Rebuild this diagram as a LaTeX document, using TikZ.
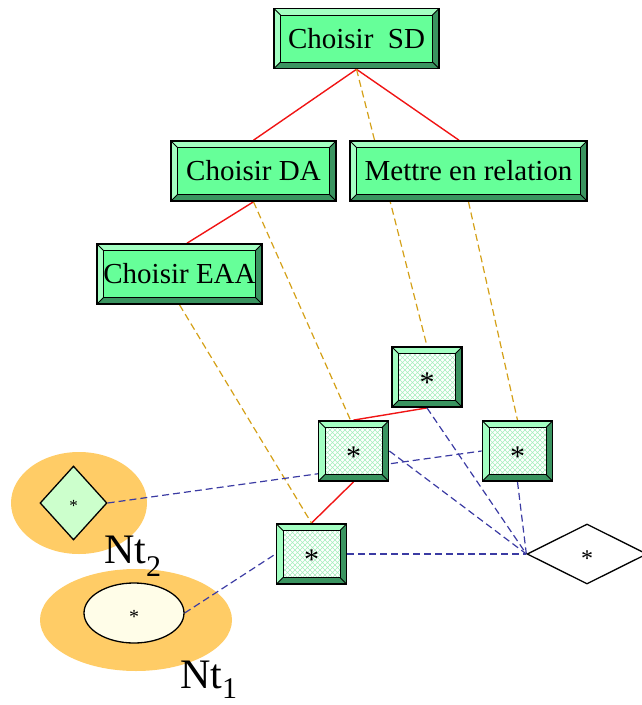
\documentclass[tikz,border=0pt]{standalone}
\usepackage{fontspec}
\setmainfont{Liberation Serif}
\usetikzlibrary{shapes.geometric,patterns,calc}

\pgfdeclarelayer{zones}
\pgfdeclarelayer{links}
\pgfsetlayers{zones,links,main}

\definecolor{face}{HTML}{66FF99}
\definecolor{bevlight}{HTML}{A3FFC2}
\definecolor{bevdark}{HTML}{3A9460}
\definecolor{meshgreen}{HTML}{A6F0BE}
\definecolor{zone}{HTML}{FFCC66}
\definecolor{goal}{HTML}{CCFFCC}
\definecolor{cream}{HTML}{FFFDE8}
\definecolor{treered}{HTML}{F01414}
\definecolor{gold}{HTML}{D4A017}
\definecolor{navy}{HTML}{3B3BA3}

% fine diagonal mesh used inside the small boxes
\pgfdeclarepatternformonly{mesh}{\pgfqpoint{-1pt}{-1pt}}{\pgfqpoint{6pt}{6pt}}{\pgfqpoint{5pt}{5pt}}{%
  \pgfsetlinewidth{0.6pt}%
  \pgfpathmoveto{\pgfqpoint{0pt}{0pt}}\pgfpathlineto{\pgfqpoint{5pt}{5pt}}%
  \pgfpathmoveto{\pgfqpoint{0pt}{5pt}}\pgfpathlineto{\pgfqpoint{5pt}{0pt}}%
  \pgfusepath{stroke}}

% bevelled frame: light rim top/left, dark rim bottom/right
\newcommand\bevelparts[1]{%
  \path (path picture bounding box.north west) coordinate (pNW)
        (path picture bounding box.north east) coordinate (pNE)
        (path picture bounding box.south east) coordinate (pSE)
        (path picture bounding box.south west) coordinate (pSW);
  \path ([shift={(#1,-#1)}]pNW) coordinate (qNW)
        ([shift={(-#1,-#1)}]pNE) coordinate (qNE)
        ([shift={(-#1,#1)}]pSE) coordinate (qSE)
        ([shift={(#1,#1)}]pSW) coordinate (qSW);
  \fill[bevlight] (pSW) -- (pNW) -- (pNE) -- (qNE) -- (qNW) -- (qSW) -- cycle;
  \fill[bevdark] (pNE) -- (pSE) -- (pSW) -- (qSW) -- (qSE) -- (qNE) -- cycle;
}
\newcommand\bevelrims{%
  \draw[line width=1pt] (qNW) rectangle (qSE);
  \draw[line width=0.8pt] (pNW) -- (qNW) (pNE) -- (qNE) (pSE) -- (qSE) (pSW) -- (qSW);
}

\tikzset{
  bigbox/.style={rectangle, draw=black, line width=1.6pt, fill=face,
    inner sep=0pt, minimum height=60pt,
    font=\fontsize{29}{32}\selectfont,
    path picture={\bevelparts{6.5pt}\bevelrims}},
  starbox/.style={rectangle, draw=black, line width=1.8pt, fill=white,
    inner sep=0pt, minimum width=70pt, minimum height=60pt,
    font=\fontsize{30}{30}\selectfont, text height=30pt, text depth=0pt,
    path picture={\bevelparts{6.5pt}%
      \fill[pattern=mesh, pattern color=meshgreen] (qNW) rectangle (qSE);%
      \bevelrims}},
  zonefill/.style={ellipse, fill=zone, draw=none, inner sep=0pt},
  ntlabel/.style={inner sep=0pt, anchor=base west, font=\fontsize{42}{44}\selectfont},
  treelink/.style={draw=treered, line width=1.4pt},
  mapslink/.style={draw=gold, line width=1.2pt, dash pattern=on 7pt off 4pt},
  flowlink/.style={draw=navy, line width=1.2pt, dash pattern=on 7pt off 4pt},
}

\begin{document}
\begin{tikzpicture}[x=1pt,y=-1pt]
\useasboundingbox (0,0) rectangle (641,705);

% task hierarchy
\node[bigbox, minimum width=165pt] (sd)  at (356.5,38.5) {Choisir\ \ SD};
\node[bigbox, minimum width=165pt] (da)  at (253.5,171)  {Choisir DA};
\node[bigbox, minimum width=237pt] (mer) at (468.5,171)  {Mettre en relation};
\node[bigbox, minimum width=165pt] (eaa) at (179.5,274)  {Choisir EAA};

% small boxes
\node[starbox] (s1) at (427,377)   {*};
\node[starbox] (s2) at (353.5,451) {*};
\node[starbox] (s3) at (517.5,451) {*};
\node[starbox] (s4) at (311.5,554) {*};

% decision on the right
\node[diamond, draw=black, line width=1.3pt, fill=white, inner sep=0pt,
      minimum width=120pt, minimum height=60pt,
      font=\fontsize{24}{24}\selectfont, text height=24pt, text depth=0pt]
      (dr) at (587,554) {*};

% terminal zones
\begin{pgfonlayer}{zones}
  \node[zonefill, minimum width=136pt, minimum height=102pt] (z2) at (79,503) {};
  \node[zonefill, minimum width=192pt, minimum height=102pt] (z1) at (136,620) {};
\end{pgfonlayer}
\node[diamond, draw=black, line width=1.3pt, fill=goal, inner sep=0pt,
      minimum width=67pt, minimum height=74pt,
      font=\fontsize{17}{17}\selectfont, text height=17pt, text depth=0pt]
      (dg) at (73.5,503) {*};
\node[ellipse, draw=black, line width=1.3pt, fill=cream, inner sep=0pt,
      minimum width=100pt, minimum height=60pt,
      font=\fontsize{20}{20}\selectfont, text height=20pt, text depth=0pt]
      (el) at (134,613) {*};

\node[ntlabel] (nt2) at (104,563) {Nt\raisebox{-13pt}{\fontsize{30}{30}\selectfont 2}};
\node[ntlabel] (nt1) at (180,688) {Nt\raisebox{-10pt}{\fontsize{30}{30}\selectfont 1}};

\begin{pgfonlayer}{links}
  % decomposition
  \draw[treelink] (sd.south) -- (da.north);
  \draw[treelink] (sd.south) -- ([xshift=-9.5pt]mer.north);
  \draw[treelink] (da.south) -- ([xshift=7.5pt]eaa.north);
  \draw[treelink] (s1.south) -- (s2.north);
  \draw[treelink] (s2.south) -- (s4.north);
  % correspondences
  \draw[mapslink] (sd.south)  -- (s1.north);
  \draw[mapslink] (da.south)  -- ([xshift=-3pt]s2.north);
  \draw[mapslink] (mer.south) -- (s3.north);
  \draw[mapslink] (eaa.south) -- (s4.north);
  % flow to the decision
  \draw[flowlink] (s1.south) -- (dr.west);
  \draw[flowlink] (s2.east)  -- (dr.west);
  \draw[flowlink] (s3.south) -- (dr.west);
  \draw[flowlink] (s4.east)  -- (dr.west);
  \draw[flowlink] (dg.east)  -- (s3.west);
  \draw[flowlink] (el.east)  -- (s4.west);
\end{pgfonlayer}
\end{tikzpicture}
\end{document}
